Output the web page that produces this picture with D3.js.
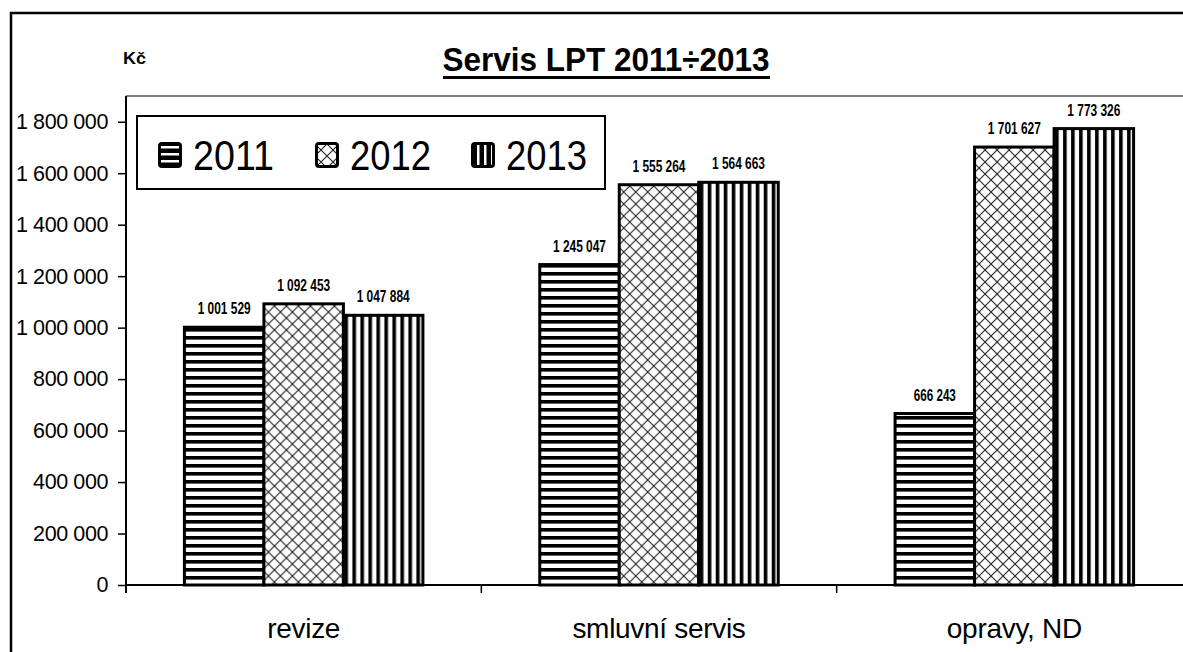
<!doctype html>
<html>
  <head>
    <meta charset="utf-8">
    <title>Servis LPT 2011÷2013</title>
    <script src="https://d3js.org/d3.v7.min.js"></script>
    <style type="text/css">
      body { margin: 0; background-color: #ffffff; }
      svg { display: block; font-family: Arial, "Liberation Sans", sans-serif; }
    </style>
  </head>
  <body>
    <script>
      // data
      var categories = ["revize", "smluvní servis", "opravy, ND"];
      var years = ["2011", "2012", "2013"];
      var values2011 = [1001529, 1245047, 666243];
      var values2012 = [1092453, 1555264, 1701627];
      var values2013 = [1047884, 1564663, 1773326];
      var yTicks = [0, 200000, 400000, 600000, 800000, 1000000, 1200000, 1400000, 1600000, 1800000];

      var series = [values2011, values2012, values2013];
      var patterns = ["hstripe", "cross", "vstripe"];

      var w = 1183, h = 652;
      // plot area edges (window.top is read-only, so no "top" here)
      var plotL = 126, plotR = 1192, plotT = 96, plotB = 585;

      var svg = d3.select("body").append("svg")
        .attr("width", w)
        .attr("height", h);

      // patterns
      var defs = svg.append("defs");
      var hs = defs.append("pattern").attr("id", "hstripe")
        .attr("patternUnits", "userSpaceOnUse").attr("width", 8).attr("height", 8);
      hs.append("rect").attr("width", 8).attr("height", 8).attr("fill", "#fff");
      hs.append("rect").attr("y", 0).attr("width", 8).attr("height", 3.6).attr("fill", "#000");

      var vs = defs.append("pattern").attr("id", "vstripe")
        .attr("patternUnits", "userSpaceOnUse").attr("width", 8).attr("height", 8);
      vs.append("rect").attr("width", 8).attr("height", 8).attr("fill", "#fff");
      vs.append("rect").attr("x", 0).attr("width", 3.6).attr("height", 8).attr("fill", "#000");

      var cr = defs.append("pattern").attr("id", "cross")
        .attr("patternUnits", "userSpaceOnUse").attr("width", 12).attr("height", 12);
      cr.append("rect").attr("width", 12).attr("height", 12).attr("fill", "#fff");
      cr.append("path").attr("d", "M0,0L12,12M12,0L0,12M-1,11L1,13M11,-1L13,1")
        .attr("stroke", "#222").attr("stroke-width", 1.1).attr("fill", "none");

      // small versions for legend swatches
      var lhs = defs.append("pattern").attr("id", "lhstripe")
        .attr("patternUnits", "userSpaceOnUse").attr("width", 7).attr("height", 7)
        .attr("y", 144);
      lhs.append("rect").attr("width", 7).attr("height", 7).attr("fill", "#000");
      lhs.append("rect").attr("y", 2).attr("width", 7).attr("height", 2.5).attr("fill", "#fff");
      var lvs = defs.append("pattern").attr("id", "lvstripe")
        .attr("patternUnits", "userSpaceOnUse").attr("width", 7).attr("height", 7)
        .attr("x", 473);
      lvs.append("rect").attr("width", 7).attr("height", 7).attr("fill", "#000");
      lvs.append("rect").attr("x", 2).attr("width", 2.5).attr("height", 7).attr("fill", "#fff");

      // outer frame
      svg.append("rect")
        .attr("x", 11).attr("y", 13)
        .attr("width", 1300).attr("height", 800)
        .attr("fill", "none").attr("stroke", "#000").attr("stroke-width", 2.5);

      // scales
      var x = d3.scaleBand().domain(categories).range([plotL, plotR]).padding(0);
      var barW = 79.5;
      var xs = d3.scaleBand().domain(years).range([0, barW * 3]).padding(0);
      var y = d3.scaleLinear().domain([0, 1900000]).range([plotB, plotT]);

      // plot area top border
      svg.append("line")
        .attr("x1", plotL).attr("x2", plotR + 20)
        .attr("y1", plotT).attr("y2", plotT)
        .attr("stroke", "#808080").attr("stroke-width", 2);

      // bars
      var groups = svg.selectAll("g.cat")
        .data(categories)
        .enter().append("g")
        .attr("class", "cat")
        .attr("transform", function(d) {
          return "translate(" + (x(d) + x.bandwidth() / 2 - barW * 1.5) + ",0)";
        });

      groups.selectAll("rect")
        .data(function(d, i) {
          return years.map(function(yr, j) { return {year: yr, value: series[j][i], pat: patterns[j]}; });
        })
        .enter().append("rect")
        .attr("x", function(d) { return xs(d.year); })
        .attr("y", function(d) { return y(d.value); })
        .attr("width", xs.bandwidth())
        .attr("height", function(d) { return plotB - y(d.value); })
        .attr("fill", function(d) { return "url(#" + d.pat + ")"; })
        .attr("stroke", "#000")
        .attr("stroke-width", 3);

      // value labels
      var fmt = function(v) { return d3.format(",")(v).replace(/,/g, " "); };
      groups.selectAll("text")
        .data(function(d, i) {
          return years.map(function(yr, j) { return {year: yr, value: series[j][i]}; });
        })
        .enter().append("text")
        .attr("x", function(d) { return xs(d.year) + xs.bandwidth() / 2; })
        .attr("y", function(d) { return y(d.value) - 13; })
        .attr("text-anchor", "middle")
        .attr("font-size", 17)
        .attr("font-weight", "bold")
        .attr("textLength", function(d) { return d.value < 1000000 ? 42 : 53; })
        .attr("lengthAdjust", "spacingAndGlyphs")
        .text(function(d) { return fmt(d.value); });

      // y axis
      var yAxis = svg.append("g")
        .attr("transform", "translate(" + plotL + ",0)")
        .call(d3.axisLeft(y).tickValues(yTicks).tickSize(8).tickPadding(10).tickFormat(fmt));
      yAxis.select(".domain").attr("stroke", "#000").attr("stroke-width", 2)
        .attr("d", "M0," + plotT + "V" + (plotB + 8));
      yAxis.selectAll(".tick line").attr("stroke", "#000").attr("stroke-width", 1.5);
      yAxis.selectAll(".tick text")
        .attr("font-size", 21.5)
        .attr("fill", "#000")
        .attr("font-family", "Arial, 'Liberation Sans', sans-serif")
        .attr("letter-spacing", "-0.4");

      // x axis
      var xAxis = svg.append("g")
        .attr("transform", "translate(0," + plotB + ")");
      xAxis.append("line")
        .attr("x1", plotL).attr("x2", plotR + 20)
        .attr("stroke", "#000").attr("stroke-width", 2);
      xAxis.selectAll("line.tk")
        .data(categories.concat(["end"]))
        .enter().append("line")
        .attr("class", "tk")
        .attr("x1", function(d, i) { return plotL + x.step() * i; })
        .attr("x2", function(d, i) { return plotL + x.step() * i; })
        .attr("y1", 0).attr("y2", 8)
        .attr("stroke", "#000").attr("stroke-width", 1.5);
      xAxis.selectAll("text")
        .data(categories)
        .enter().append("text")
        .attr("x", function(d) { return x(d) + x.bandwidth() / 2; })
        .attr("y", 53)
        .attr("text-anchor", "middle")
        .attr("font-size", 28)
        .attr("letter-spacing", "-0.3")
        .text(function(d) { return d; });

      // title
      svg.append("text")
        .attr("x", 606).attr("y", 71)
        .attr("text-anchor", "middle")
        .attr("font-size", 34)
        .attr("font-weight", "bold")
        .attr("textLength", 327)
        .attr("lengthAdjust", "spacingAndGlyphs")
        .text("Servis LPT 2011÷2013");
      svg.append("line")
        .attr("x1", 443).attr("x2", 770)
        .attr("y1", 77.5).attr("y2", 77.5)
        .attr("stroke", "#000").attr("stroke-width", 3);

      svg.append("text")
        .attr("x", 123).attr("y", 64)
        .attr("font-size", 17)
        .attr("font-weight", "bold")
        .attr("textLength", 23)
        .attr("lengthAdjust", "spacingAndGlyphs")
        .text("Kč");

      // legend
      var legend = svg.append("g");
      legend.append("rect")
        .attr("x", 137).attr("y", 116)
        .attr("width", 468).attr("height", 73)
        .attr("fill", "#fff").attr("stroke", "#000").attr("stroke-width", 2);
      var legX = [158, 315, 471];
      var legFill = ["url(#lhstripe)", "url(#cross)", "url(#lvstripe)"];
      var items = legend.selectAll("g.item")
        .data(years)
        .enter().append("g")
        .attr("class", "item")
        .attr("transform", function(d, i) { return "translate(" + legX[i] + ",0)"; });
      items.append("rect")
        .attr("x", 1.5).attr("y", 143.5)
        .attr("width", 21).attr("height", 23)
        .attr("rx", 2.5)
        .attr("fill", function(d, i) { return legFill[i]; })
        .attr("stroke", "#000").attr("stroke-width", 3);
      items.append("text")
        .attr("x", 35).attr("y", 170)
        .attr("font-size", 42)
        .attr("textLength", 81)
        .attr("lengthAdjust", "spacingAndGlyphs")
        .text(function(d) { return d; });
    </script>
  </body>
</html>
